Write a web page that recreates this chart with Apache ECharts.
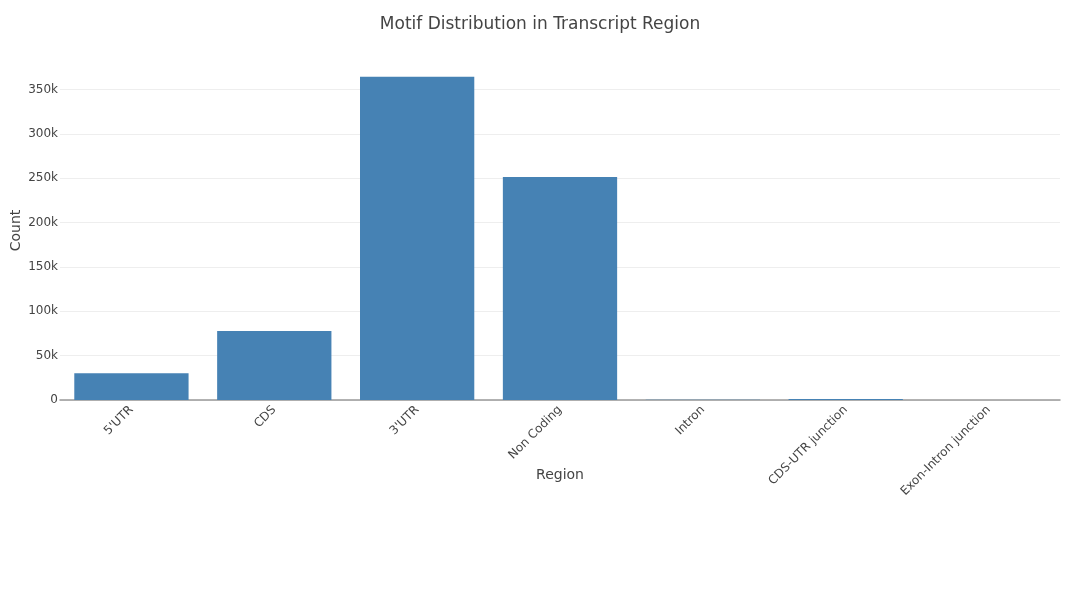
<!DOCTYPE html>
<html>
<head>
<meta charset="utf-8">
<script src="https://cdn.jsdelivr.net/npm/echarts@6/dist/echarts.min.js"></script>
<style>
html,body{margin:0;padding:0;background:#fff;}
#chart_area{width:1080px;height:600px;}
</style>
</head>
<body>
<div id="chart_area"></div>
<script>
var regions = ["5'UTR", 'CDS', "3'UTR", 'Non Coding', 'Intron', 'CDS-UTR junction', 'Exon-Intron junction'];
var counts = [30100, 77700, 364200, 251200, 150, 1000, 120];
var yTicks = [0, 50000, 100000, 150000, 200000, 250000, 300000, 350000];

initEcharts();

function initEcharts(){
	var myChart = echarts.init(document.getElementById('chart_area'));
	var fontFam = '"DejaVu Sans", verdana, arial, sans-serif';
	var option = {
		animation: false,
		title: {
			text: 'Motif Distribution in Transcript Region',
			left: 'center',
			top: 11,
			textStyle: {fontFamily: fontFam, fontSize: 17, fontWeight: 'normal', color: '#444'}
		},
		grid: {
			left: 60,
			right: 20,
			top: 61,
			bottom: 200,
			outerBoundsMode: 'none'
		},
		xAxis: {
			type: 'category',
			data: regions,
			name: 'Region',
			nameLocation: 'middle',
			nameGap: 68,
			nameMoveOverlap: false,
			nameTextStyle: {fontFamily: fontFam, fontSize: 14, color: '#444'},
			axisLine: {lineStyle: {color: '#999', width: 1.5}},
			axisTick: {show: false},
			axisLabel: {
				rotate: 45,
				interval: 0,
				margin: 8,
				fontFamily: fontFam,
				fontSize: 12,
				color: '#444'
			}
		},
		yAxis: {
			type: 'value',
			min: 0,
			max: 382000,
			interval: 50000,
			name: 'Count',
			nameLocation: 'middle',
			nameGap: 37,
			nameMoveOverlap: false,
			nameTextStyle: {fontFamily: fontFam, fontSize: 14, color: '#444'},
			axisLine: {show: false},
			axisTick: {show: false},
			axisLabel: {
				showMaxLabel: false,
				margin: 2,
				fontFamily: fontFam,
				fontSize: 12,
				color: '#444',
				formatter: function(v){
					if (yTicks.indexOf(v) < 0) return '';
					return v === 0 ? '0' : (v / 1000) + 'k';
				}
			},
			splitLine: {lineStyle: {color: ['#eee','#eee','#eee','#eee','#eee','#eee','#eee','#eee','rgba(0,0,0,0)']}}
		},
		series: [
			{
				name: 'Count',
				type: 'bar',
				barCategoryGap: '20%',
				itemStyle: {color: '#4682B4'},
				data: counts
			}
		]
	};
	myChart.setOption(option);
}
</script>
</body>
</html>
